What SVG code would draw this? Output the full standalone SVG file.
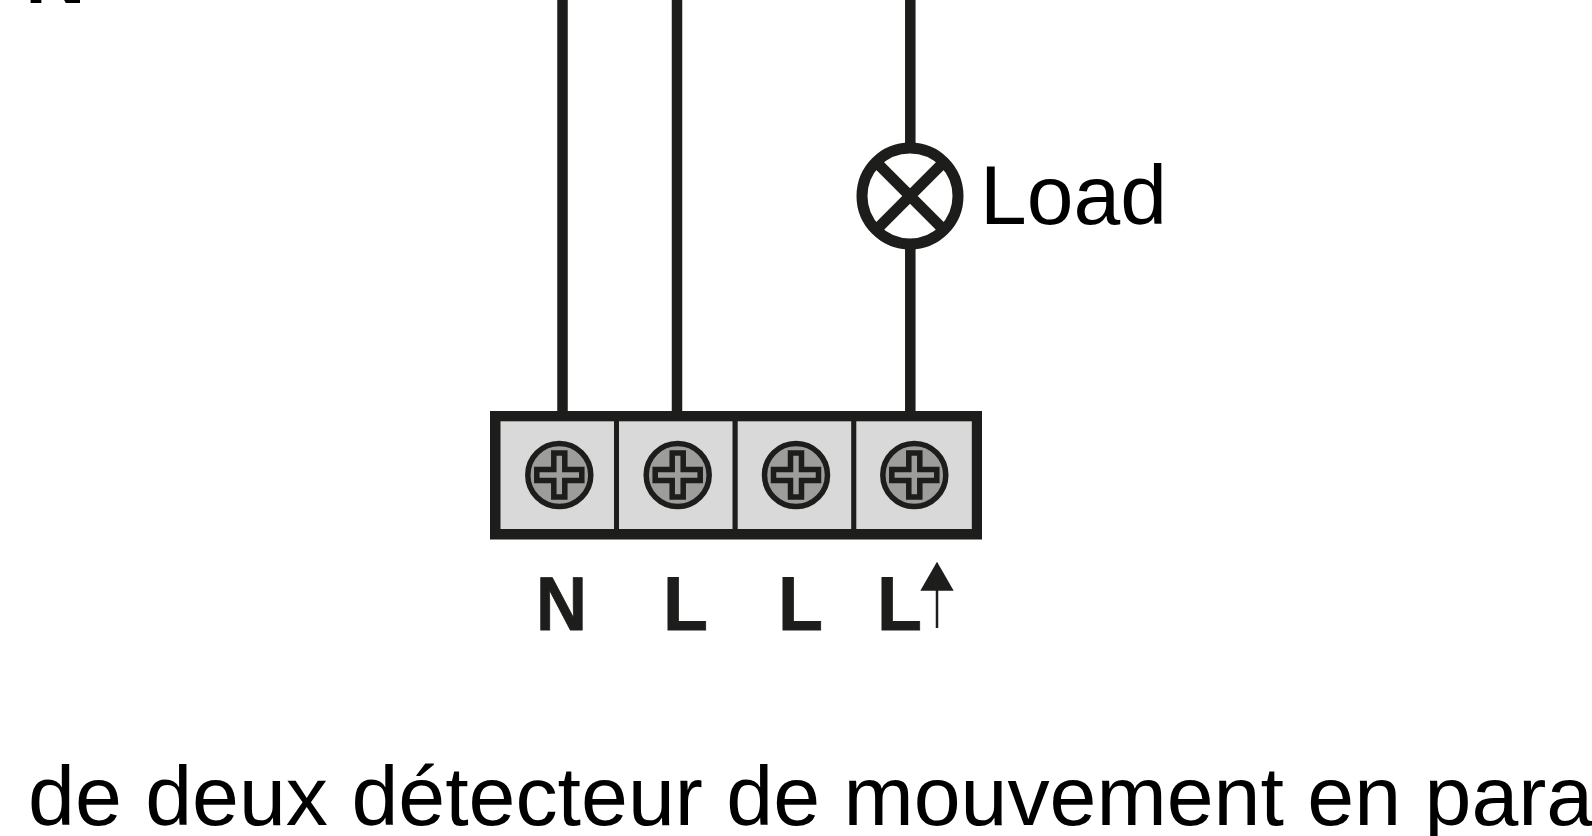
<svg xmlns="http://www.w3.org/2000/svg" xmlns:xlink="http://www.w3.org/1999/xlink" width="1592" height="836" viewBox="0 0 1592 836">
<style>
.wire{stroke:#1d1d1b;stroke-width:10.500;fill:none}
.lamp{stroke:#1d1d1b;stroke-width:11;fill:none}
.cell{fill:#d9d9d9}
.head{fill:#9d9d9c;stroke:#1d1d1b;stroke-width:5.500}
.slot{fill:#9d9d9c;stroke:#1d1d1b;stroke-width:5.500}
.lab{font-family:"Liberation Sans",Arial,sans-serif;font-weight:700;font-size:76px;fill:#1d1d1b;stroke:#1d1d1b;stroke-width:.8}
.txt{font-family:"Liberation Sans",Arial,sans-serif;fill:#000}
</style>
<defs>
<g id="screw">
<circle class="head" r="31.5"/>
<path class="slot" d="M-5.500-22H5.500V-5.500H22.500V5.500H5.500V22H-5.500V5.500H-22.500V-5.500H-5.500Z"/>
</g>
</defs>
<rect width="1592" height="836" fill="#fff"/>
<g id="connectors">
<path class="wire" d="M562.500 0V411"/>
<path class="wire" d="M677 0V411"/>
<path class="wire" d="M910.300 0V145M910.300 241V411"/>
</g>
<g id="lamp">
<circle class="lamp" cx="910" cy="196" r="48"/>
<path class="lamp" d="M875.700 161.700L944.300 230.300M944.300 161.700L875.700 230.300"/>
<text class="txt" x="980" y="224" font-size="84">Load</text>
</g>
<g id="terminal-block">
<rect x="490" y="411" width="492" height="128.500" fill="#1d1d1b"/>
<rect class="cell" x="500.500" y="421.300" width="113.500" height="107.700"/>
<rect class="cell" x="619" y="421.300" width="113.500" height="107.700"/>
<rect class="cell" x="737.700" y="421.300" width="113.500" height="107.700"/>
<rect class="cell" x="856.300" y="421.300" width="115.500" height="107.700"/>
<use xlink:href="#screw" x="559.300" y="475"/>
<use xlink:href="#screw" x="677.700" y="475"/>
<use xlink:href="#screw" x="796" y="475"/>
<use xlink:href="#screw" x="914.300" y="475"/>
</g>
<g id="terminal-labels">
<text class="lab" x="536" y="630" textLength="51" lengthAdjust="spacingAndGlyphs">N</text>
<text class="lab" x="663" y="630" textLength="45" lengthAdjust="spacingAndGlyphs">L</text>
<text class="lab" x="778" y="630" textLength="45" lengthAdjust="spacingAndGlyphs">L</text>
<text class="lab" x="877" y="630" textLength="45" lengthAdjust="spacingAndGlyphs">L</text>
<path d="M937 561.700L953.700 590.700H920.300Z" fill="#1d1d1b"/>
<path d="M937 590V628" stroke="#1d1d1b" stroke-width="2.500" fill="none"/>
</g>
<text class="txt" x="28" y="825" font-size="84.300">de deux détecteur de mouvement en para</text>
<text class="txt" x="25" y="3" font-size="84" font-weight="700">N</text>
</svg>
